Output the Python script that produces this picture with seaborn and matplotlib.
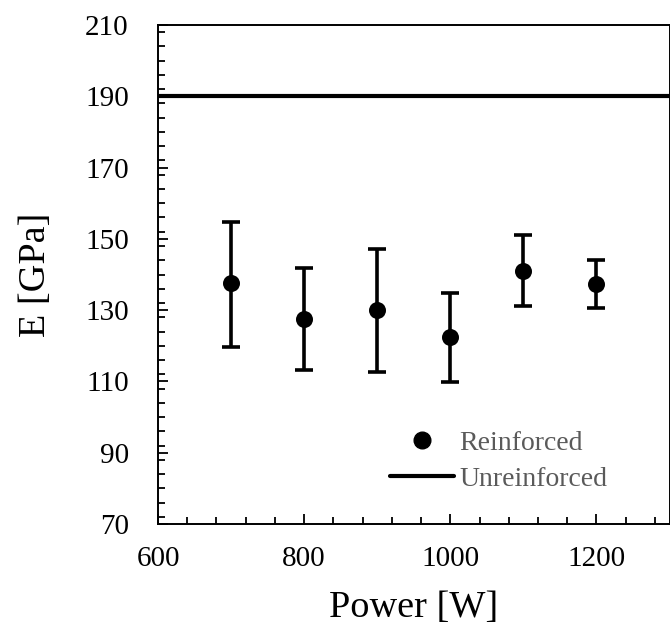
import matplotlib
matplotlib.use("Agg")
import matplotlib.pyplot as plt
import seaborn as sns
import numpy as np
import pandas as pd
from matplotlib.ticker import MultipleLocator
from matplotlib.lines import Line2D

power = [700, 800, 900, 1000, 1100, 1200]
modulus = [137.5, 127.6, 130.1, 122.4, 141.0, 137.4]
err_low = [17.8, 14.3, 17.4, 12.7, 9.8, 6.7]
err_high = [17.3, 14.2, 17.1, 12.4, 10.0, 6.6]
unreinforced = 190
series_labels = ["Reinforced", "Unreinforced"]

sns.set_theme(style="white")
plt.rcParams['font.family'] = ['Liberation Serif', 'DejaVu Serif']
plt.rcParams['text.color'] = 'black'
plt.rcParams['axes.labelcolor'] = 'black'

df = pd.DataFrame({"Power": power, "E": modulus})

fig = plt.figure(figsize=(6.7, 6.28), dpi=100)
ax = fig.add_axes([158/670, 1 - 524/628, (669.5 - 158)/670, (524 - 25)/628])

ax.errorbar(df["Power"], df["E"], yerr=[err_low, err_high], fmt='none',
            ecolor='black', elinewidth=2.6, capsize=6.8, capthick=2.6, zorder=2)
sns.scatterplot(data=df, x="Power", y="E", ax=ax, color='black', s=150,
                edgecolor='black', linewidth=0, zorder=3, legend=False)
ax.axhline(unreinforced, color='black', lw=3, zorder=2)

ax.set_xlim(600, 1300)
ax.set_ylim(70, 210)
ax.set_xticks([600, 800, 1000, 1200])
ax.set_yticks(np.arange(70, 211, 20))
ax.xaxis.set_minor_locator(MultipleLocator(40))
ax.yaxis.set_minor_locator(MultipleLocator(4))
ax.tick_params(axis='both', which='both', direction='in', colors='black',
               labelsize=21, width=1.3, bottom=True, left=True, top=False, right=False)
ax.tick_params(which='major', length=7)
ax.tick_params(which='minor', length=5)
ax.tick_params(axis='x', pad=16)
ax.tick_params(axis='y', pad=21)
for sp in ax.spines.values():
    sp.set_color('black')
    sp.set_linewidth(1.4)
    sp.set_visible(True)

ax.set_xlabel("Power [W]", fontsize=27.5, labelpad=13)
ax.set_ylabel("E [GPa]", fontsize=27.5, labelpad=23)

handles = [
    Line2D([], [], marker='o', color='black', linestyle='none', markersize=12),
    Line2D([], [], color='black', lw=3),
]
leg = ax.legend(handles, series_labels, loc='center', bbox_to_anchor=(0.666, 0.126),
                frameon=False, fontsize=20, handlelength=2.3, handletextpad=0.2,
                labelspacing=0.4, labelcolor='#5a5a5a')

fig.savefig("out.png", dpi=100, facecolor='white')
